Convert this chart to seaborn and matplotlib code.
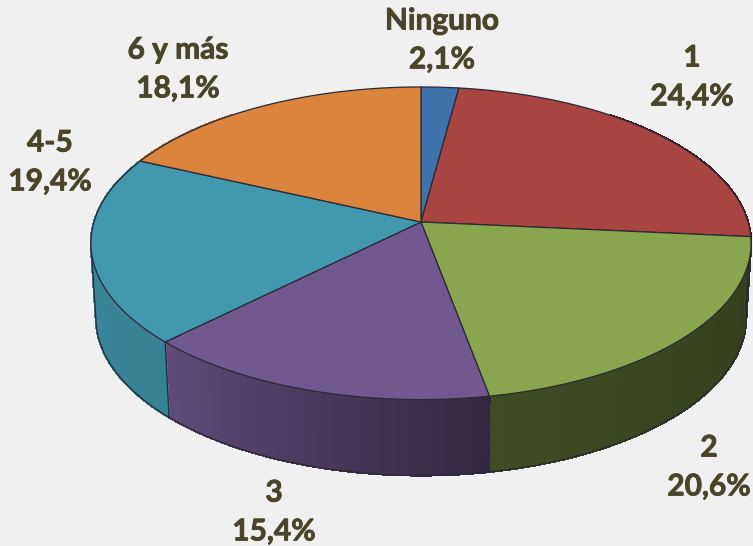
import numpy as np
import seaborn as sns
import matplotlib.pyplot as plt
import matplotlib.patheffects as pe

categories = ["Ninguno", "1", "2", "3", "4-5", "6 y más"]
values = [2.1, 24.4, 20.6, 15.4, 19.4, 18.1]
value_labels = ["2,1%", "24,4%", "20,6%", "15,4%", "19,4%", "18,1%"]
colors = ["#3F71AB", "#A84543", "#89A54E", "#71588F", "#4198AF", "#DB843D"]

label_x = [442, 692, 709, 274, 50, 178]
label_y = [40, 77, 467, 512, 162, 69]

# perspective pie, everything in reference pixels
cx, top_y, low_y = 421, 222, 296
a, b, k = 327, 153.4, -0.136
low_scale = 0.985
low_b = 155
line_col = "#2a2a33"
text_col = "#4A452A"


def top_pt(t):
    d = 1 - k * np.cos(t)
    return cx + a * np.sin(t) / d, top_y - b * np.cos(t) / d


def low_pt(t):
    d = 1 - k * np.cos(t)
    return cx + low_scale * a * np.sin(t) / d, low_y - low_b * np.cos(t) / d


def side_shade(deg):
    return np.interp(deg, [95, 170, 225, 295], [0.37, 0.46, 0.85, 0.9])


sns.set_theme(style="white")
plt.rcParams["font.family"] = ["Lato", "DejaVu Sans"]
palette = sns.color_palette(colors)

fig = plt.figure(figsize=(7.53, 5.46), dpi=100, facecolor="#f0f0f0")
ax = fig.add_axes([0, 0, 1, 1])
ax.set_xlim(0, 753)
ax.set_ylim(546, 0)
ax.axis("off")

edges = np.cumsum([0] + values) / sum(values) * 2 * np.pi

# side wall, drawn in thin strips so the shade can change along the rim
for i in range(len(values)):
    th = np.linspace(edges[i], edges[i + 1], 80)
    for t0, t1 in zip(th[:-1], th[1:]):
        mid = np.degrees((t0 + t1) / 2)
        if mid < 40 or mid > 320:
            continue
        x0, y0 = top_pt(t0)
        x1, y1 = top_pt(t1)
        x2, y2 = low_pt(t1)
        x3, y3 = low_pt(t0)
        c = np.array(palette[i]) * side_shade(mid)
        ax.fill([x0, x1, x2, x3], [y0, y1, y2, y3], color=c, lw=1.0,
                antialiased=False, zorder=2)

# bottom rim line, only between the two widest points, then up to the top face
th = np.radians(np.linspace(40, 320, 1200))
xl, yl = low_pt(th)
i_right, i_left = np.argmax(xl), np.argmin(xl)
xt, yt = top_pt(th)
ax.plot(np.r_[xt[np.argmax(xt)], xl[i_right:i_left + 1], xt[np.argmin(xt)]],
        np.r_[yt[np.argmax(xt)], yl[i_right:i_left + 1], yt[np.argmin(xt)]],
        color=line_col, lw=0.9, zorder=3)

# vertical edges on the visible wedge borders
for e in edges[1:5]:
    if np.pi / 2 < e < 1.5 * np.pi:
        xa, ya = top_pt(e)
        xb, yb = low_pt(e)
        ax.plot([xa, xb], [ya, yb], color=line_col, lw=0.9, zorder=3)

# top face
for i in range(len(values)):
    th = np.linspace(edges[i], edges[i + 1], 160)
    xs, ys = top_pt(th)
    ax.fill(np.r_[cx, xs], np.r_[top_y, ys], facecolor=palette[i],
            edgecolor=line_col, lw=0.9, joinstyle="round", zorder=4)

for i, cat in enumerate(categories):
    ax.text(label_x[i], label_y[i], cat + "\n" + value_labels[i], ha="center", va="center",
            fontsize=21.5, fontweight="bold", color=text_col, linespacing=1.47, zorder=5,
            path_effects=[pe.withStroke(linewidth=0.6, foreground=text_col)])

fig.savefig("out.png", dpi=100, facecolor=fig.get_facecolor())
